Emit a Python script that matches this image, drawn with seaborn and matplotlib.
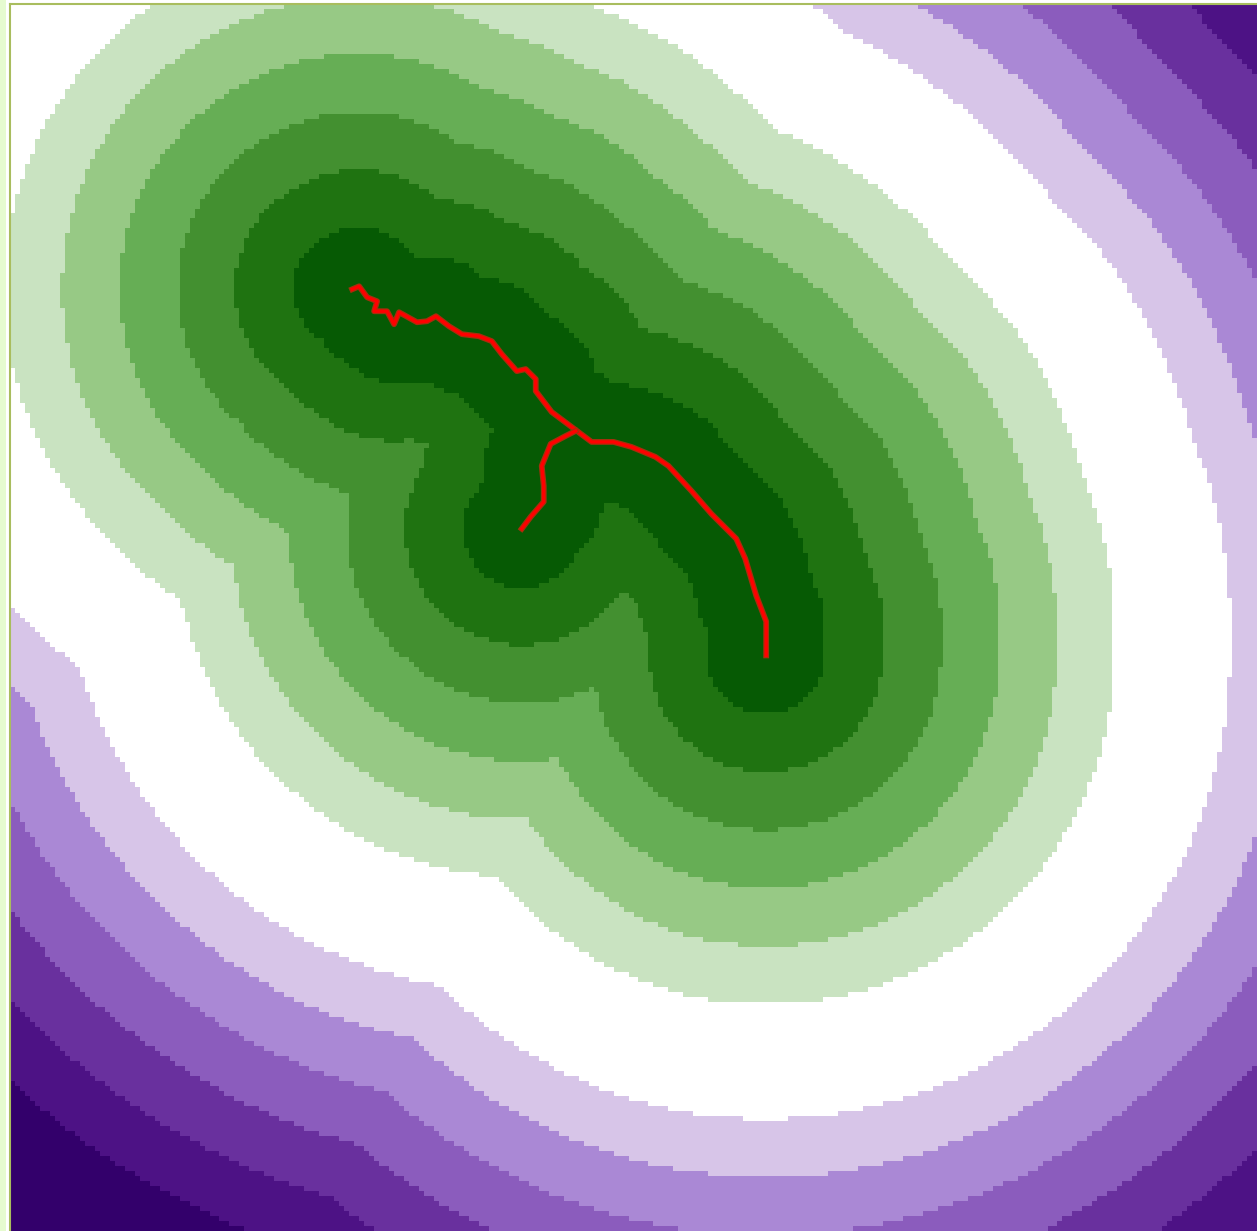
import numpy as np
import pandas as pd
import matplotlib.pyplot as plt
from matplotlib.colors import ListedColormap
from matplotlib.patches import Rectangle
import seaborn as sns

# skeleton, in image pixels
main_x = [353, 360, 368, 378, 375, 388, 395, 400, 418, 428, 437, 450, 463, 480, 493, 503, 518, 527,
          537, 537, 553, 573, 593, 615, 633, 657, 670, 693, 713, 738, 747, 758, 768, 768]
main_y = [290, 287, 298, 302, 312, 312, 325, 313, 323, 322, 317, 327, 335, 337, 342, 355, 372, 370,
          380, 392, 413, 428, 443, 443, 448, 458, 467, 492, 515, 540, 560, 597, 623, 657]
branch_x = [577, 567, 552, 543, 545, 545, 532, 523]
branch_y = [432, 437, 445, 467, 487, 503, 518, 530]

# distance band edges (pixels) and band colours
band_edges = [59, 117, 175, 233, 291, 349, 465, 523, 581, 639, 697, 755]
band_colors = ["#065a04", "#1f7311", "#439030", "#66ae55", "#97c985", "#c9e3c1", "#ffffff",
               "#d7c5e8", "#aa88d5", "#8b5cbd", "#69309e", "#4d1285", "#33006b"]

W, H = 1257, 1231
left, top = 10, 4
cell = 5


def seg_dist(px, py, x0, y0, x1, y1):
    dx, dy = x1 - x0, y1 - y0
    t = np.clip(((px - x0) * dx + (py - y0) * dy) / max(dx * dx + dy * dy, 1e-9), 0, 1)
    return np.hypot(px - x0 - t * dx, py - y0 - t * dy)


# field = distance of each cell to the skeleton
xs = np.arange(left, W, cell) + cell / 2
ys = np.arange(top, H, cell) + cell / 2
px, py = np.meshgrid(xs, ys)
dist = np.full(px.shape, np.inf)
for lx, ly in [(main_x, main_y), (branch_x, branch_y)]:
    for i in range(len(lx) - 1):
        dist = np.minimum(dist, seg_dist(px, py, lx[i], ly[i], lx[i + 1], ly[i + 1]))
bands = np.digitize(dist, band_edges)

fig = plt.figure(figsize=(W / 100, H / 100), dpi=100, facecolor="white")
fig.add_artist(Rectangle((0, 0), 6 / W, 1, transform=fig.transFigure, color="#e6fbd0", lw=0))
ax = fig.add_axes([left / W, 0, (W - left) / W, (H - top) / H])

sns.heatmap(pd.DataFrame(bands), ax=ax, cmap=ListedColormap(band_colors), vmin=-0.5, vmax=12.5,
            cbar=False, xticklabels=False, yticklabels=False)
xlim, ylim = ax.get_xlim(), ax.get_ylim()

# red skeleton with darker outline
for lx, ly in [(main_x, main_y), (branch_x, branch_y)]:
    cx = (np.array(lx) - left) / cell
    cy = (np.array(ly) - top) / cell
    sns.lineplot(x=cx, y=cy, ax=ax, sort=False, estimator=None, color="#a5300c", lw=4.2)
    sns.lineplot(x=cx, y=cy, ax=ax, sort=False, estimator=None, color="#ff0000", lw=2.4)

ax.set_xlim(xlim)
ax.set_ylim(ylim)
ax.set_xlabel("")
ax.set_ylabel("")
for name in ["left", "top"]:
    ax.spines[name].set_visible(True)
    ax.spines[name].set_color("#a9bd5e")
    ax.spines[name].set_linewidth(1.5)

fig.savefig("out.png", dpi=100)
